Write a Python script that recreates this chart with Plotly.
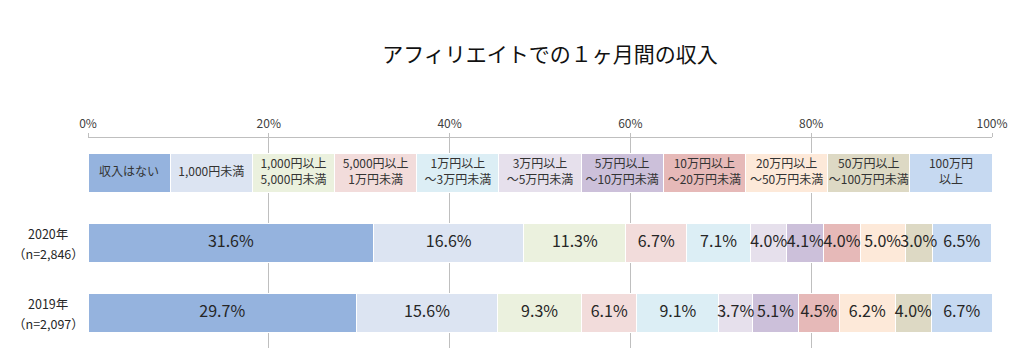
import plotly.graph_objects as go

# ---- data ----
categories = ["収入はない", "1,000円未満", "1,000円以上<br>5,000円未満", "5,000円以上<br>1万円未満",
              "1万円以上<br>～3万円未満", "3万円以上<br>～5万円未満", "5万円以上<br>～10万円未満",
              "10万円以上<br>～20万円未満", "20万円以上<br>～50万円未満", "50万円以上<br>～100万円未満",
              "100万円<br>以上"]
values_2020 = [31.6, 16.6, 11.3, 6.7, 7.1, 4.0, 4.1, 4.0, 5.0, 3.0, 6.5]
values_2019 = [29.7, 15.6, 9.3, 6.1, 9.1, 3.7, 5.1, 4.5, 6.2, 4.0, 6.7]
row_labels = ["2020年<br>（n=2,846）", "2019年<br>（n=2,097）"]
tick_vals = [0, 20, 40, 60, 80, 100]
tick_text = ["0%", "20%", "40%", "60%", "80%", "100%"]
title_text = "アフィリエイトでの１ヶ月間の収入"

colors = ["#95B3DE", "#DCE4F2", "#EBF1DE", "#F2DCDB", "#DCEEF5", "#E6E0EC",
          "#CCC0DA", "#E6B9B8", "#FDE9D9", "#DDD9C4", "#C6D9F1"]

LEG = "legend_row"
rows = [LEG] + row_labels
n = len(categories)
legend_width = 100.0 / n

FONT = "Noto Sans CJK JP"

fig = go.Figure()
for i, cat in enumerate(categories):
    fig.add_trace(go.Bar(
        y=rows, x=[legend_width, values_2020[i], values_2019[i]],
        orientation="h", marker=dict(color=colors[i], line=dict(color="white", width=1)),
        showlegend=False, hoverinfo="skip", name=cat.replace("<br>", ""),
    ))

# text labels at segment centres
def centres(vals):
    out, acc = [], 0.0
    for v in vals:
        out.append(acc + v / 2)
        acc += v
    return out

fig.add_trace(go.Scatter(
    x=centres([legend_width] * n), y=[LEG] * n, mode="text", text=categories,
    textfont=dict(family=FONT, size=12, color="#333333"), showlegend=False, hoverinfo="skip",
))
for vals, row in zip([values_2020, values_2019], row_labels):
    fig.add_trace(go.Scatter(
        x=centres(vals), y=[row] * n, mode="text", text=[f"{v:.1f}%" for v in vals],
        textfont=dict(family=FONT, size=16, color="#262626"), showlegend=False, hoverinfo="skip",
    ))

# row labels: two lines, placed separately for a looser line spacing
for row in row_labels:
    first, second = row.split("<br>")
    for part, shift in ((first, 10), (second, -10)):
        fig.add_annotation(x=-0.044, xref="paper", y=row, yref="y", text=part, showarrow=False,
                           xanchor="center", yanchor="middle", yshift=shift,
                           font=dict(family=FONT, size=12.5, color="#262626"))

# page body has an 8px margin; figure is sized so it fits the 1024x357 window
fig.update_layout(
    barmode="stack", bargap=0.43,
    width=1016, height=349,
    margin=dict(l=80, r=32, t=130, b=9, autoexpand=False),
    plot_bgcolor="white", paper_bgcolor="white",
    font=dict(family=FONT, size=12, color="#404040"),
    title=dict(text=title_text, x=542 / 1016, xref="container", xanchor="center",
               y=1 - 47 / 349, yref="container", yanchor="middle",
               font=dict(family=FONT, size=21, color="#111111")),
    xaxis=dict(side="top", range=[0, 100], tickvals=tick_vals, ticktext=tick_text,
               showgrid=True, gridcolor="#BFBFBF", gridwidth=1, zeroline=False,
               showline=True, linecolor="#BFBFBF", linewidth=1,
               ticks="outside", ticklen=4, tickcolor="#BFBFBF",
               tickfont=dict(family=FONT, size=12, color="#404040")),
    yaxis=dict(categoryorder="array", categoryarray=rows, autorange="reversed",
               showticklabels=False, showgrid=False, zeroline=False, showline=False),
)

fig.write_html("out.html")
